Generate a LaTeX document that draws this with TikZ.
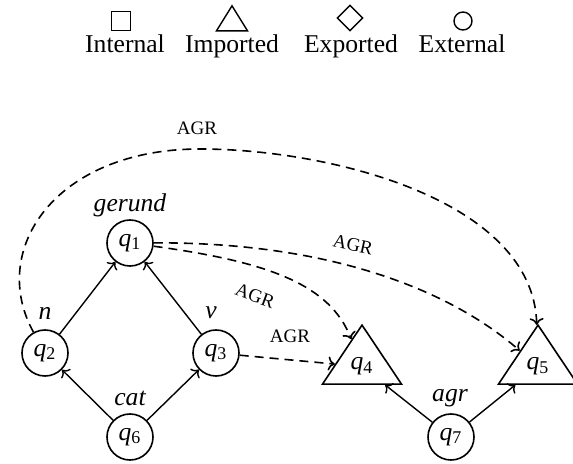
\documentclass[tikz,border=0pt]{standalone}
\usepackage{fontspec}
\setmainfont{Liberation Serif}
\usetikzlibrary{shapes.geometric, arrows.meta, positioning}

\newcommand{\qsub}[1]{\textit{q}\textsubscript{#1}}

\tikzset{
  qcirc/.style={draw,circle,line width=0.8pt,minimum size=23pt,inner sep=0pt},
  qtri/.style={draw,isosceles triangle,isosceles triangle stretches,shape border rotate=90,
    line width=0.8pt,minimum width=39.5pt,minimum height=29.5pt,inner sep=0pt},
  lab/.style={font=\fontsize{12.8}{15}\selectfont\itshape},
  agr/.style={font=\fontsize{9.5}{11}\selectfont,inner sep=1pt},
  arr/.style={->,line width=0.7pt},
  darr/.style={->,line width=0.8pt,dash pattern=on 4.5pt off 3pt}
}

\begin{document}
\begin{tikzpicture}[x=0.5pt,y=-0.5pt,font=\fontsize{12.8}{15}\selectfont]
\useasboundingbox (0,0) rectangle (573,464);
% Legend
\node[draw,line width=0.7pt,minimum size=9.5pt,inner sep=0pt] (sqr) at (121,21) {};
\node[draw,line width=0.7pt,isosceles triangle,isosceles triangle stretches,shape border rotate=90,
  minimum width=15.5pt,minimum height=12.5pt,inner sep=0pt,anchor=apex] (tri) at (232,4) {};
\node[draw,line width=0.7pt,diamond,minimum width=13pt,minimum height=13pt,inner sep=0pt] (dia) at (350,18) {};
\node[draw,line width=0.7pt,circle,minimum size=9pt,inner sep=0pt] (cir) at (463,21) {};
\node[anchor=base] (intl) at (125,53) {Internal};
\node[anchor=base] (impl) at (232,53) {Imported};
\node[anchor=base] (expl) at (351,53) {Exported};
\node[anchor=base] (extl) at (462,53) {External};

% States
\node[qcirc] (q1) at (130,243) {\qsub{1}};
\node[qcirc] (q2) at (45,353) {\qsub{2}};
\node[qcirc] (q3) at (216,353) {\qsub{3}};
\node[qcirc] (q6) at (130,437) {\qsub{6}};
\node[qcirc] (q7) at (451,437) {\qsub{7}};
\node[qtri,anchor=apex] (q4) at (362,323) {\qsub{4}};
\node[qtri,anchor=apex] (q5) at (538,323) {\qsub{5}};

\node[lab] (gerund) at (130,205) {gerund};
\node[lab] (n) at (45,313) {n};
\node[lab] (v) at (211,313) {v};
\node[lab] (cat) at (130,398) {cat};
\node[lab] (agr) at (450,398) {agr};

\draw[arr] (q2) -- (q1);
\draw[arr] (q3) -- (q1);
\draw[arr] (q6) -- (q2);
\draw[arr] (q6) -- (q3);
\draw[arr] (q7) -- (q4);
\draw[arr] (q7) -- (q5);

\draw[darr] (q3) -- (q4);
\draw[darr] (q1) .. controls (270,262) and (330,285) .. (q4);
\draw[darr] (q1) .. controls (330,242) and (450,290) .. (q5);
\draw[darr] (q2) .. controls (-12,250) and (55,149) .. (200,149)
  .. controls (330,149) and (533,200) .. (q5);

\node[agr] (a1) at (197,128) {AGR};
\node[agr,rotate=-12] (a2) at (353,245) {AGR};
\node[agr,rotate=-20] (a3) at (255,296) {AGR};
\node[agr] (a4) at (290,336) {AGR};
\end{tikzpicture}
\end{document}
